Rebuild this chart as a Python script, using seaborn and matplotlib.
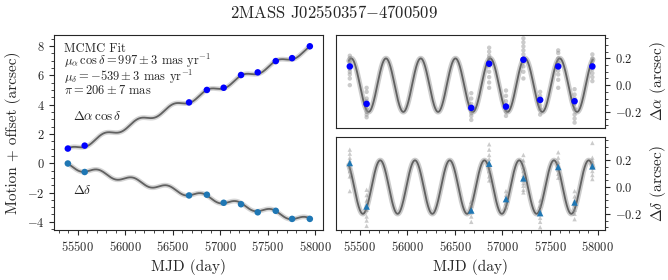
import numpy as np
import pandas as pd
import matplotlib
matplotlib.use('Agg')
import matplotlib.pyplot as plt
from matplotlib.ticker import MultipleLocator
import seaborn as sns

# epochs of the observations (MJD)
epochs = [55395, 55572, 56672, 56860, 57037, 57220, 57396, 57586, 57758, 57945]

# left panel: total motion + offset (arcsec)
ra_total = [1.00, 1.20, 4.15, 5.00, 5.15, 6.02, 6.20, 6.97, 7.17, 7.98]
dec_total = [-0.02, -0.60, -2.20, -2.15, -2.70, -2.80, -3.35, -3.25, -3.80, -3.80]

# right panels: parallax residual per epoch (arcsec)
ra_plx = [0.14, -0.14, -0.17, 0.16, -0.16, 0.19, -0.11, 0.14, -0.12, 0.14]
dec_plx = [0.18, -0.145, -0.175, 0.175, -0.09, 0.065, -0.195, 0.15, -0.115, 0.155]

# individual frames at each epoch
ra_frames = [
    [0.22, 0.20, 0.18, 0.16, 0.14, 0.12, 0.10, 0.08, 0.05, 0.00],
    [-0.02, -0.05, -0.10, -0.12, -0.15, -0.18, -0.20, -0.22, -0.24],
    [-0.06, -0.10, -0.14, -0.17, -0.19, -0.21, -0.23, -0.26],
    [0.28, 0.25, 0.22, 0.20, 0.17, 0.14, 0.10, 0.06, 0.02, -0.02],
    [-0.04, -0.08, -0.12, -0.15, -0.18, -0.20, -0.23],
    [0.35, 0.32, 0.29, 0.26, 0.23, 0.20, 0.17, 0.14, 0.10, 0.05],
    [-0.05, -0.08, -0.12, -0.15, -0.18, -0.22],
    [0.26, 0.24, 0.20, 0.17, 0.14, 0.11, 0.08, 0.04, -0.02],
    [-0.03, -0.07, -0.10, -0.14, -0.18, -0.22, -0.25, -0.28],
    [0.23, 0.20, 0.18, 0.15, 0.12, 0.09, 0.06, 0.03],
]
dec_frames = [
    [0.28, 0.25, 0.22, 0.20, 0.18, 0.15, 0.12, 0.08, -0.03],
    [-0.02, -0.06, -0.10, -0.14, -0.17, -0.22, -0.25, -0.29],
    [-0.11, -0.14, -0.17, -0.19, -0.22, -0.26],
    [0.32, 0.28, 0.24, 0.21, 0.18, 0.15, 0.12, 0.08, 0.05],
    [-0.03, -0.06, -0.09, -0.12, -0.15],
    [0.24, 0.20, 0.15, 0.12, 0.09, 0.07, 0.05, 0.03, 0.01, -0.02, -0.04],
    [-0.10, -0.14, -0.18, -0.20, -0.23, -0.26, -0.30],
    [0.26, 0.22, 0.19, 0.16, 0.13, 0.10, 0.07],
    [-0.03, -0.07, -0.10, -0.13, -0.17, -0.20, -0.24],
    [0.33, 0.22, 0.20, 0.18, 0.15, 0.12, 0.09, 0.06],
]

# MCMC fit parameters (arcsec, arcsec/yr) and phase of the yearly parallax wobble
pm_ra = 0.997
pm_dec = -0.539
plx_amp = 0.2
ra_peak = 55410
dec_peak = 55715
ra_offset = 0.81
dec_offset = -0.17

sns.set_style('ticks')
plt.rcParams['font.family'] = 'cmr10'
plt.rcParams['mathtext.fontset'] = 'cm'
plt.rcParams['axes.formatter.use_mathtext'] = True
plt.rcParams['axes.unicode_minus'] = True
plt.rcParams['xtick.labelsize'] = 9
plt.rcParams['ytick.labelsize'] = 9

# model curves
t = np.linspace(epochs[0] - 10, epochs[-1] + 5, 900)
yr = (t - epochs[0]) / 365.25
ra_wob = plx_amp * np.cos(2 * np.pi * (t - ra_peak) / 365.25)
dec_wob = plx_amp * np.cos(2 * np.pi * (t - dec_peak) / 365.25)
model = pd.DataFrame({'mjd': t,
                      'ra_tot': ra_offset + pm_ra * yr + ra_wob,
                      'dec_tot': dec_offset + pm_dec * yr + dec_wob,
                      'ra': ra_wob, 'dec': dec_wob})

obs = pd.DataFrame({'mjd': epochs, 'ra_tot': ra_total, 'dec_tot': dec_total,
                    'ra': ra_plx, 'dec': dec_plx})

ra_fr = pd.DataFrame({'mjd': [m for m, f in zip(epochs, ra_frames) for _ in f],
                      'val': [v for f in ra_frames for v in f]})
dec_fr = pd.DataFrame({'mjd': [m for m, f in zip(epochs, dec_frames) for _ in f],
                       'val': [v for f in dec_frames for v in f]})

fig = plt.figure(figsize=(6.68, 2.8), dpi=100)
ax1 = fig.add_axes([0.081, 0.179, 0.402, 0.696])
ax2 = fig.add_axes([0.503, 0.543, 0.403, 0.332])
ax3 = fig.add_axes([0.503, 0.179, 0.403, 0.332])

xlim = (55250, 58080)

# left panel
for col in ['ra_tot', 'dec_tot']:
    sns.lineplot(data=model, x='mjd', y=col, ax=ax1, color='0.8', lw=3.5, alpha=0.8, zorder=1)
    sns.lineplot(data=model, x='mjd', y=col, ax=ax1, color='0.38', lw=1.3, zorder=2)
sns.scatterplot(data=obs, x='mjd', y='ra_tot', ax=ax1, color='blue', s=22, edgecolor='none', zorder=3)
sns.scatterplot(data=obs, x='mjd', y='dec_tot', ax=ax1, color='#1f77b4', s=22, edgecolor='none', zorder=3)
ax1.set_xlim(xlim)
ax1.set_ylim(-4.55, 8.75)
ax1.xaxis.set_major_locator(MultipleLocator(500))
ax1.xaxis.set_minor_locator(MultipleLocator(100))
ax1.yaxis.set_major_locator(MultipleLocator(2))
ax1.yaxis.set_minor_locator(MultipleLocator(0.5))
ax1.set_xlabel('MJD (day)', fontsize=11)
ax1.set_ylabel('Motion + offset (arcsec)', fontsize=11)

fit_text = ('MCMC Fit\n'
            r'$\mu_\alpha\,\cos\delta = 997 \pm 3$ mas yr$^{-1}$' '\n'
            r'$\mu_\delta = -539 \pm 3$ mas yr$^{-1}$' '\n'
            r'$\pi = 206 \pm 7$ mas')
ax1.text(0.037, 0.96, fit_text, transform=ax1.transAxes, fontsize=9,
         va='top', ha='left', linespacing=0.8)
ax1.text(55447, 3.17, r'$\Delta\alpha\,\cos\delta$', fontsize=9.5, va='center', ha='left')
ax1.text(55447, -1.86, r'$\Delta\delta$', fontsize=9.5, va='center', ha='left')

# right panels
for ax, col, fr, mk, c, lab in [(ax2, 'ra', ra_fr, 'o', 'blue', r'$\Delta\alpha$ (arcsec)'),
                                (ax3, 'dec', dec_fr, '^', '#1f77b4', r'$\Delta\delta$ (arcsec)')]:
    sns.lineplot(data=model, x='mjd', y=col, ax=ax, color='0.75', lw=3.8, alpha=0.8, zorder=1)
    sns.lineplot(data=model, x='mjd', y=col, ax=ax, color='0.38', lw=1.3, zorder=2)
    sns.scatterplot(data=fr, x='mjd', y='val', ax=ax, color='0.55', alpha=0.45, s=10,
                    marker=mk, edgecolor='none', zorder=2.5)
    sns.scatterplot(data=obs, x='mjd', y=col, ax=ax, color=c, s=22, marker=mk,
                    edgecolor='none', zorder=3)
    ax.set_xlim(xlim)
    ax.set_ylim(-0.32, 0.375)
    ax.yaxis.tick_right()
    ax.yaxis.set_label_position('right')
    ax.yaxis.set_major_locator(MultipleLocator(0.2))
    ax.yaxis.set_minor_locator(MultipleLocator(0.05))
    ax.set_ylabel(lab, fontsize=11)
    ax.xaxis.set_major_locator(MultipleLocator(500))
    ax.xaxis.set_minor_locator(MultipleLocator(100))

ax2.tick_params(axis='x', which='both', bottom=False, labelbottom=False)
ax2.set_xlabel('')
ax3.set_xlabel('MJD (day)', fontsize=11)

fig.text(0.5, 0.955, r'2MASS J02550357$-$4700509', ha='center', va='center', fontsize=12)

fig.savefig('out.png', dpi=100)
